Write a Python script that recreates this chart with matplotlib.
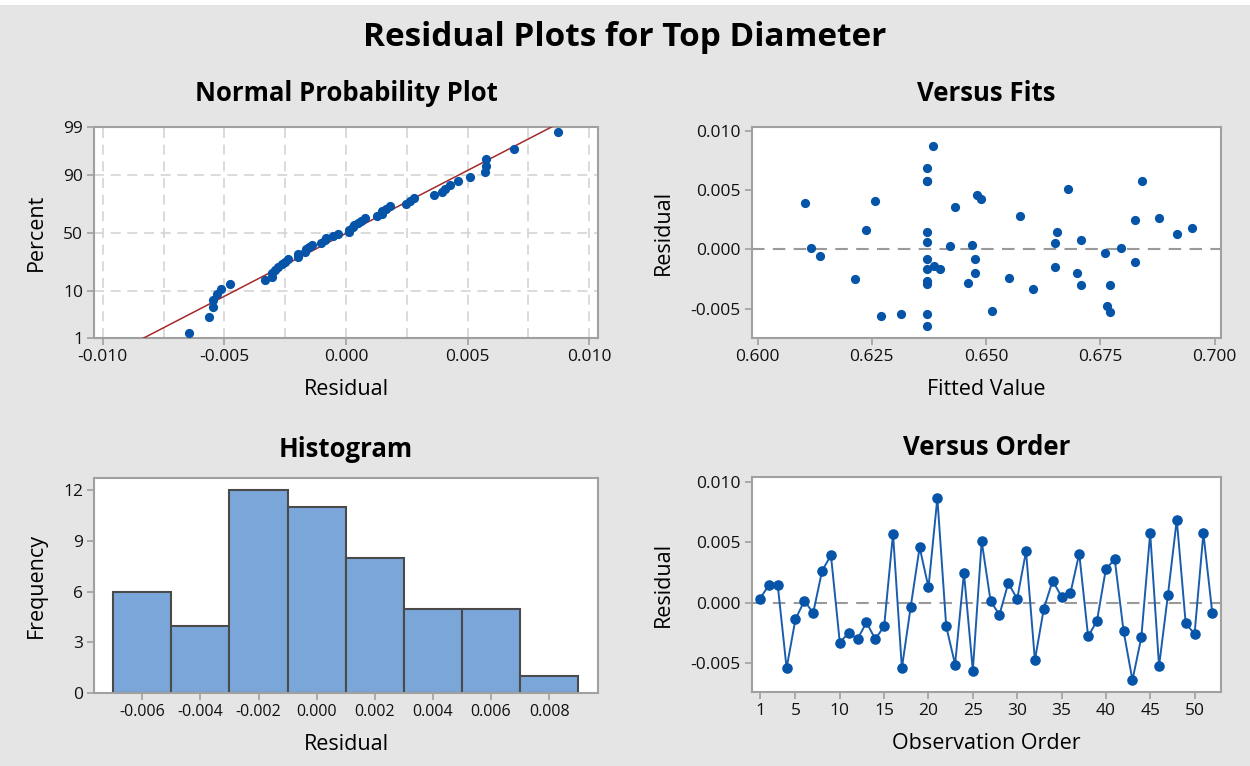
import matplotlib
matplotlib.use("Agg")
import matplotlib.pyplot as plt
from matplotlib.patches import Rectangle
from statistics import NormalDist
import numpy as np

plt.rcParams["font.family"] = ["Open Sans", "DejaVu Sans"]

# residuals in observation order (1..52)
residuals = [
    0.00033, 0.00146, 0.00146, -0.00545, -0.00138, 0.00014, -0.00085, 0.00264,
    0.00394, -0.00333, -0.00251, -0.00303, -0.00165, -0.00303, -0.00198, 0.00573,
    -0.00545, -0.00033, 0.00460, 0.00127, 0.00870, -0.00198, -0.00515, 0.00248,
    -0.00565, 0.00510, 0.00014, -0.00102, 0.00163, 0.00030, 0.00427, -0.00479,
    -0.00052, 0.00182, 0.00050, 0.00077, 0.00408, -0.00281, -0.00152, 0.00278,
    0.00361, -0.00237, -0.00645, -0.00290, 0.00576, -0.00529, 0.00063, 0.00689,
    -0.00168, -0.00264, 0.00576, -0.00083,
]

# fitted values for the same observations
fitted = [
    0.6470, 0.6371, 0.6655, 0.6313, 0.6385, 0.6118, 0.6475, 0.6879,
    0.6104, 0.6602, 0.6213, 0.6708, 0.6371, 0.6770, 0.6475, 0.6371,
    0.6371, 0.6760, 0.6480, 0.6918, 0.6384, 0.6698, 0.6513, 0.6826,
    0.6270, 0.6679, 0.6794, 0.6826, 0.6237, 0.6422, 0.6489, 0.6764,
    0.6136, 0.6950, 0.6651, 0.6708, 0.6256, 0.6460, 0.6651, 0.6574,
    0.6432, 0.6551, 0.6371, 0.6371, 0.6841, 0.6770, 0.6371, 0.6371,
    0.6399, 0.6371, 0.6371, 0.6371,
]

hist_edges = [-0.007, -0.005, -0.003, -0.001, 0.001, 0.003, 0.005, 0.007, 0.009]
hist_ticks = [-0.006, -0.004, -0.002, 0.000, 0.002, 0.004, 0.006, 0.008]
npp_percent_ticks = [1, 10, 50, 90, 99]
order_ticks = [1, 5, 10, 15, 20, 25, 30, 35, 40, 45, 50]

BG = "#E5E5E5"
SPINE = "#A0A0A0"
DOT = "#0654A8"
GRID = "#D4D4D4"
W, H = 1250, 766


def px_axes(fig, left, right, top, bottom):
    return fig.add_axes([left / W, 1 - bottom / H, (right - left) / W, (bottom - top) / H])


def style(ax):
    for s in ax.spines.values():
        s.set_color(SPINE)
        s.set_linewidth(1.5)
    ax.tick_params(direction="out", length=5, width=1.2, color=SPINE,
                   labelsize=12.5, labelcolor="#111111", pad=3)
    ax.set_facecolor("white")


def titles(ax, title, xlabel, ylabel, pad):
    ax.set_title(title, fontsize=18.5, fontweight="bold", pad=pad)
    ax.set_xlabel(xlabel, fontsize=15.5, labelpad=10)
    ax.set_ylabel(ylabel, fontsize=15.5, labelpad=12)


fig = plt.figure(figsize=(W / 100, H / 100), dpi=100, facecolor=BG)
fig.patches.append(Rectangle((0, 1 - 5 / H), 1, 5 / H, transform=fig.transFigure,
                             facecolor="white", edgecolor="none"))
fig.text(0.5, 1 - 37 / H, "Residual Plots for Top Diameter", ha="center", va="center",
         fontsize=24, fontweight="bold")

res = np.array(residuals)
n = len(res)

# Normal probability plot
ax1 = px_axes(fig, 94.3, 597.7, 127.3, 338.3)
style(ax1)
nd = NormalDist()
srt = np.sort(res)
pct = [(i + 1 - 0.3) / (n + 0.4) for i in range(n)]
z = np.array([nd.inv_cdf(p) for p in pct])
zlo, zhi = nd.inv_cdf(0.01), nd.inv_cdf(0.99)
mu, sd = res.mean(), res.std(ddof=1)
zline = np.linspace(zlo - 0.2, zhi + 0.2, 50)
ax1.plot(mu + zline * sd, zline, color="#A52A2A", lw=1.1, zorder=3)
ax1.scatter(srt, z, s=44, color=DOT, zorder=4, linewidths=0)
ax1.set_xlim(-0.01035, 0.01035)
ax1.set_ylim(zlo, zhi)
ax1.set_xticks([-0.010, -0.005, 0.000, 0.005, 0.010])
ax1.set_xticklabels(["-0.010", "-0.005", "0.000", "0.005", "0.010"])
ax1.set_yticks([nd.inv_cdf(p / 100) for p in npp_percent_ticks])
ax1.set_yticklabels([str(p) for p in npp_percent_ticks])
for gx in np.arange(-0.010, 0.0101, 0.0025):
    ax1.axvline(gx, color=GRID, lw=1.2, ls=(0, (6, 4)), zorder=1)
for p in [10, 50, 90]:
    ax1.axhline(nd.inv_cdf(p / 100), color=GRID, lw=1.2, ls=(0, (6, 4)), zorder=1)
titles(ax1, "Normal Probability Plot", "Residual", "Percent", 19)

# Versus fits
ax2 = px_axes(fig, 751.7, 1221, 127.3, 337.7)
style(ax2)
ax2.axhline(0, color="#9A9A9A", lw=1.5, ls=(0, (6, 4)), zorder=1)
ax2.scatter(fitted, res, s=44, color=DOT, zorder=3, linewidths=0)
ax2.set_xlim(0.59873, 0.70138)
ax2.set_ylim(-0.00744, 0.01029)
ax2.set_xticks([0.600, 0.625, 0.650, 0.675, 0.700])
ax2.set_xticklabels(["0.600", "0.625", "0.650", "0.675", "0.700"])
ax2.set_yticks([-0.005, 0.000, 0.005, 0.010])
ax2.set_yticklabels(["-0.005", "0.000", "0.005", "0.010"])
titles(ax2, "Versus Fits", "Fitted Value", "Residual", 19)

# Histogram
ax3 = px_axes(fig, 94.3, 597.7, 478.3, 693.3)
style(ax3)
ax3.hist(res, bins=hist_edges, color="#7BA6DA", edgecolor="#4A4A4A", linewidth=1.5, zorder=2)
ax3.set_xlim(-0.00765, 0.00967)
ax3.set_ylim(0, 12.69)
ax3.set_xticks(hist_ticks)
ax3.set_xticklabels([f"{t:.3f}" for t in hist_ticks])
ax3.tick_params(axis="x", labelsize=11.5)
ax3.set_yticks([0, 3, 6, 9, 12])
titles(ax3, "Histogram", "Residual", "Frequency", 15.5)

# Versus order
ax4 = px_axes(fig, 752, 1220.5, 476.7, 691.7)
style(ax4)
order = np.arange(1, n + 1)
ax4.axhline(0, color="#9A9A9A", lw=1.5, ls=(0, (6, 4)), zorder=1)
ax4.plot(order, res, color="#1A5DAE", lw=1.4, marker="o", ms=6.6,
         mfc=DOT, mec=DOT, zorder=3)
ax4.set_xlim(0.098, 52.93)
ax4.set_ylim(-0.00741, 0.01047)
ax4.set_xticks(order_ticks)
ax4.set_yticks([-0.005, 0.000, 0.005, 0.010])
ax4.set_yticklabels(["-0.005", "0.000", "0.005", "0.010"])
titles(ax4, "Versus Order", "Observation Order", "Residual", 15.5)

fig.savefig("out.png", dpi=100, facecolor=BG)
